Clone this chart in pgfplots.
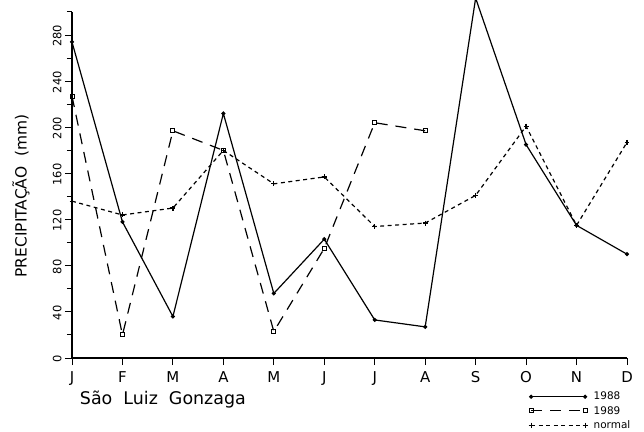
\documentclass[border=0pt]{standalone}
\usepackage{pgfplots}
\pgfplotsset{compat=1.18}
\usepackage{fontspec}
\setmainfont{DejaVu Sans}
\begin{document}
\begin{tikzpicture}
\useasboundingbox (-72bp,-74bp) rectangle (572bp,358bp);
\begin{axis}[
  scale only axis,
  width=555bp, height=346bp,
  xmin=0, xmax=11, ymin=0, ymax=300,
  axis lines=left,
  axis line style={-, line width=1.1pt},
  clip=false,
  xtick={0,...,11},
  xticklabels={J,F,M,A,M,J,J,A,S,O,N,D},
  ytick={0,40,...,280},
  minor ytick={20,60,...,300},
  tick align=outside,
  major tick length=7bp,
  minor tick length=5bp,
  tick style={line width=1pt, black},
  /pgf/number format/assume math mode=true,
  xticklabel style={font=\fontsize{15}{15}\selectfont, yshift=-3bp},
  yticklabel style={font=\fontsize{11.5}{12}\selectfont, rotate=90, anchor=south, xshift=-1bp},
  legend style={at={(rel axis cs:1.01,-0.092)}, anchor=north east, draw=none, fill=none,
    font=\fontsize{10.5}{11}\selectfont, row sep=1bp, inner sep=0pt},
  legend cell align=left,
  legend image code/.code={\draw[mark repeat=1,#1] plot coordinates {(0bp,0bp) (54bp,0bp)}; \path (60bp,0bp);},
]
\addplot[black, line width=1.2pt, mark=*, mark size=1.4pt] coordinates {
(0,274) (1,118) (2,36) (3,212) (4,56) (5,103) (6,33) (7,27) (8,312) (9,185) (10,115) (11,90)};
\addlegendentry{1988}
\addplot[black, line width=1.2pt, dash pattern=on 11bp off 8bp, mark=square, mark size=2pt, mark options={solid, line width=0.9pt}] coordinates {
(0,227) (1,20) (2,197) (3,180) (4,23) (5,95) (6,204) (7,197)};
\addlegendentry{1989}
\addplot[black, line width=1.2pt, dash pattern=on 4bp off 3.5bp, mark=+, mark size=2.5pt, mark options={solid}] coordinates {
(0,136) (1,124) (2,130) (3,180) (4,151) (5,157) (6,114) (7,117) (8,141) (9,201) (10,115) (11,187)};
\addlegendentry{normal}
\node[rotate=90, anchor=south, font=\fontsize{15.5}{16}\selectfont] at ([xshift=-39bp]rel axis cs:0,0.468) {PRECIPITAÇÃO\ \ (mm)};
\node[anchor=west, font=\fontsize{17.5}{18}\selectfont] at (rel axis cs:0.008,-0.121) {São\ \ Luiz\ \ Gonzaga};
\end{axis}
\end{tikzpicture}
\end{document}
